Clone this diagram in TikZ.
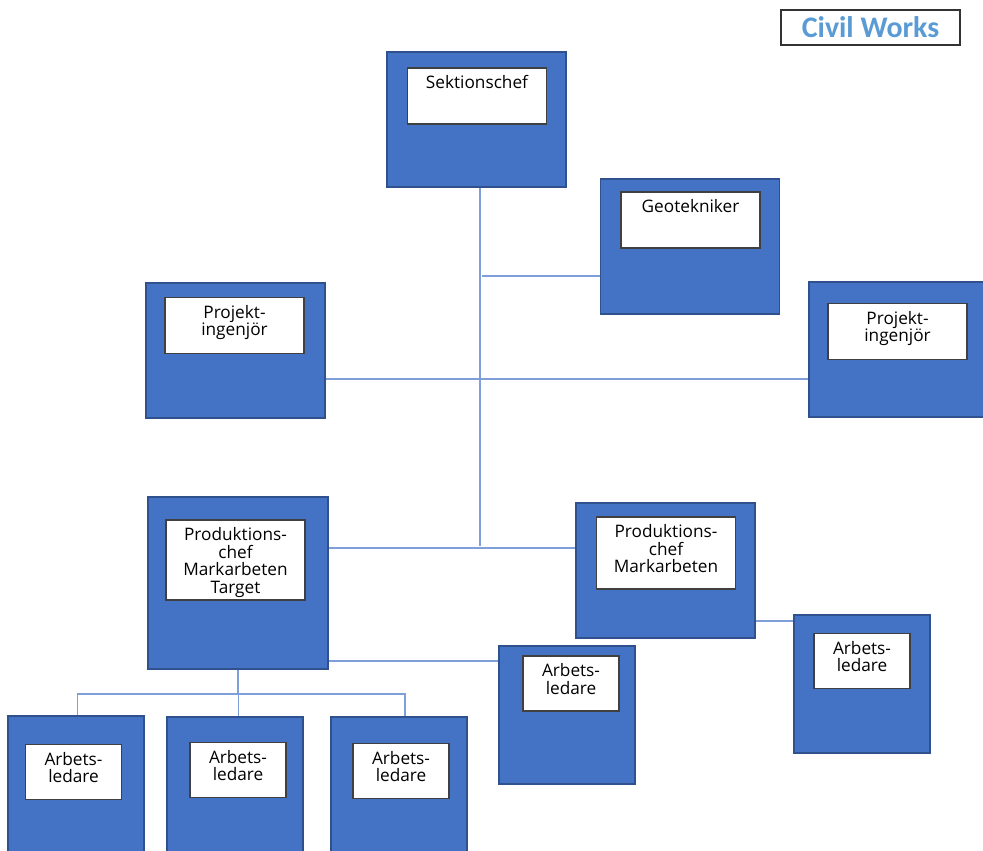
\documentclass[tikz,border=0pt]{standalone}
\usepackage{fontspec}
\usepackage{tikz}
\newfontfamily\orgfont{Open Sans}
\newfontfamily\headfont{Carlito}
\definecolor{boxblue}{HTML}{4472C4}
\definecolor{boxedge}{HTML}{2F528F}
\definecolor{linkblue}{HTML}{7F9FDB}
\definecolor{headblue}{HTML}{5B9BD5}

\begin{document}
\begin{tikzpicture}[x=0.02cm, y=-0.02cm,
    link/.style={draw=linkblue, line width=0.7pt},
    lbl/.style={anchor=north, align=center, inner sep=2pt, yshift=-2.5pt,
      font=\orgfont\fontsize{9.8}{10}\selectfont}]
    \useasboundingbox (0,0) rectangle (983,850);
    \clip (0,0) rectangle (983,850);
    % outer blue boxes
    \begin{scope}[every node/.style={draw=boxedge, fill=boxblue, line width=0.9pt,
        minimum width=3.58cm, minimum height=2.7cm, inner sep=0pt}]
      \node (sekt) at (476.5,119.5) {};
      \node (geo) at (690,246.5) {};
      \node (pil) at (235.5,350.5) {};
      \node (pir) at (898.5,349.5) {};
      \node[minimum width=3.6cm, minimum height=3.44cm] (pmt) at (238,583) {};
      \node (pm) at (665.5,570.5) {};
    \end{scope}
    \begin{scope}[every node/.style={draw=boxedge, fill=boxblue, line width=0.9pt,
        minimum width=2.72cm, minimum height=2.76cm, inner sep=0pt}]
      \node (alm) at (567,715) {};
      \node (alr) at (862,684) {};
      \node (al1) at (76,785) {};
      \node (al2) at (235,786) {};
      \node (al3) at (399,786) {};
    \end{scope}
    % white boxes
    \begin{scope}[every node/.style={draw=black!75, fill=white, line width=0.8pt,
        minimum width=2.78cm, minimum height=1.12cm, inner sep=0pt}]
      \node (sekt-i) at (477,96) {};
      \node (geo-i) at (690.5,220) {};
      \node (pil-i) at (234.5,325.5) {};
      \node (pir-i) at (897.5,331.5) {};
      \node[minimum height=1.6cm] (pmt-i) at (235.5,560) {};
      \node[minimum height=1.44cm] (pm-i) at (666,553) {};
      \node[minimum width=1.92cm, minimum height=1.1cm] (alm-i) at (571,683.5) {};
      \node[minimum width=1.92cm, minimum height=1.1cm] (alr-i) at (862,661) {};
      \node[minimum width=1.92cm, minimum height=1.1cm] (al1-i) at (73.5,772) {};
      \node[minimum width=1.92cm, minimum height=1.1cm] (al2-i) at (238,770) {};
      \node[minimum width=1.92cm, minimum height=1.1cm] (al3-i) at (401,771) {};
    \end{scope}
    \node[lbl] (sekt-t) at (sekt-i.north) {Sektionschef};
    \node[lbl] (geo-t) at (geo-i.north) {Geotekniker};
    \node[lbl] (pil-t) at (pil-i.north) {Projekt-\\ingenjör};
    \node[lbl] (pir-t) at (pir-i.north) {Projekt-\\ingenjör};
    \node[lbl] (pmt-t) at (pmt-i.north) {Produktions-\\chef\\Markarbeten\\Target};
    \node[lbl] (pm-t) at (pm-i.north) {Produktions-\\chef\\Markarbeten};
    \foreach \b in {alm,alr,al1,al2,al3}
      \node[lbl] (\b-t) at (\b-i.north) {Arbets-\\ledare};

    % title
    \node[draw=black!80, line width=0.8pt, minimum width=3.58cm, minimum height=0.7cm,
      text=headblue, font=\headfont\bfseries\fontsize{17}{20}\selectfont] (title)
      at (870.5,27.5) {Civil Works};

    % connectors
    \coordinate (trunk) at (480,546);
    \coordinate (j1) at (482,276);
    \coordinate (j2) at (480,379);
    \coordinate (j3) at (480,548);
    \coordinate (j4) at (775,621);
    \coordinate (j5) at (400,661);
    \coordinate (bus) at (238,694);
    \draw[link] (sekt.south -| trunk) -- (trunk);
    \draw[link] (j1) -- (j1 -| geo.west);
    \draw[link] (j2 -| pil.east) -- (j2 -| pir.west);
    \draw[link] (j3 -| pmt.east) -- (j3 -| pm.west);
    \draw[link] (j4 -| pm.east) -- (j4 -| alr.west);
    \draw[link] (j5 -| pmt.east) -- (j5 -| alm.west);
    \draw[link] (pmt.south) -- (pmt.south |- bus);
    \draw[link] ([xshift=1pt]al1.north) |- (bus) -| ([xshift=3.4pt]al3.north);
    \draw[link] (bus) -| ([xshift=2pt]al2.north);
\end{tikzpicture}
\end{document}
